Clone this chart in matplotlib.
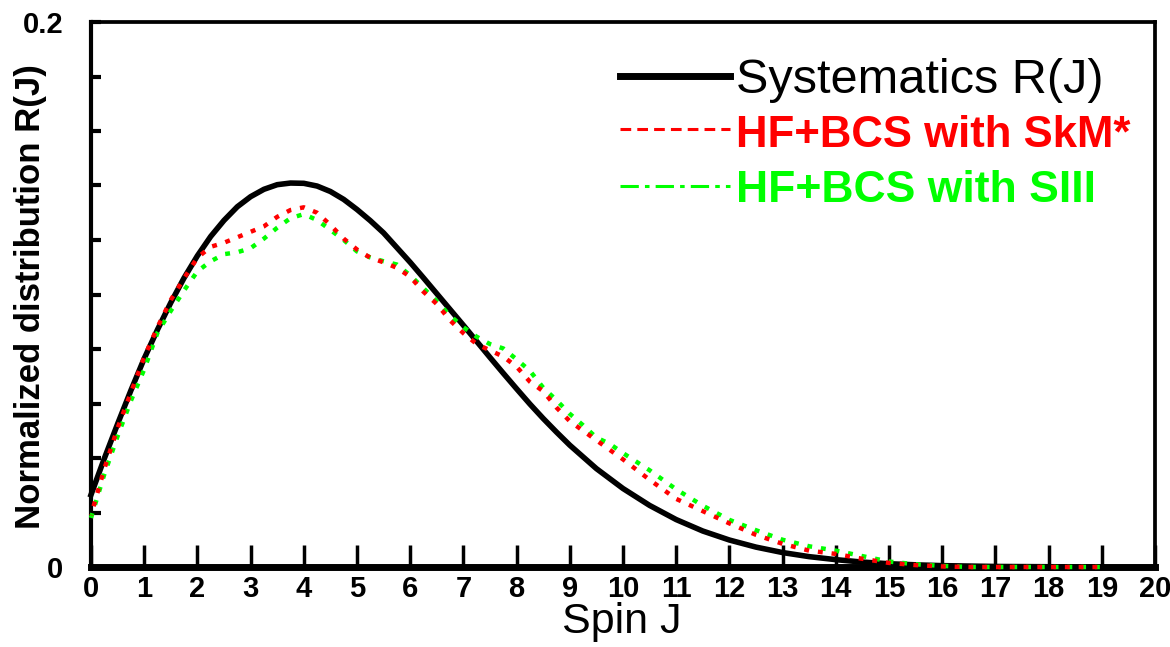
import numpy as np
import matplotlib
matplotlib.use('Agg')
import matplotlib.pyplot as plt

# spin J and the systematics curve R(J)
spin_sys = [0, 0.25, 0.5, 0.75, 1, 1.25, 1.5, 1.75, 2, 2.25, 2.5, 2.75, 3, 3.25,
            3.5, 3.75, 4, 4.25, 4.5, 4.75, 5, 5.25, 5.5, 5.75, 6, 6.25, 6.5,
            6.75, 7, 7.25, 7.5, 7.75, 8, 8.25, 8.5, 8.75, 9, 9.5, 10, 10.5, 11,
            11.5, 12, 12.5, 13, 13.5, 14, 14.5, 15, 15.5, 16, 17, 18, 19]
r_sys = [0.0265, 0.0398, 0.0525, 0.0648, 0.0765, 0.0871, 0.097, 0.1061, 0.1142,
         0.1213, 0.1272, 0.1322, 0.1359, 0.1386, 0.1403, 0.1409, 0.1408, 0.1398,
         0.1378, 0.1349, 0.1312, 0.1271, 0.1226, 0.1172, 0.1118, 0.1061, 0.1003,
         0.0945, 0.0887, 0.0828, 0.0769, 0.0711, 0.0654, 0.0598, 0.0545, 0.0495,
         0.0447, 0.0361, 0.0288, 0.0226, 0.0174, 0.0132, 0.0099, 0.0073, 0.0053,
         0.0038, 0.0027, 0.0018, 0.0012, 0.0008, 0.0005, 0.0002, 0.0001, 0.0]

# HF+BCS curves
spin_hf = [0, 0.25, 0.5, 0.75, 1, 1.25, 1.5, 1.75, 2, 2.25, 2.5, 2.75, 3, 3.25,
           3.5, 3.75, 4, 4.25, 4.5, 4.75, 5, 5.25, 5.5, 5.75, 6, 6.25, 6.5,
           6.75, 7, 7.25, 7.5, 7.75, 8, 8.25, 8.5, 8.75, 9, 9.25, 9.5, 9.75, 10,
           10.5, 11, 11.5, 12, 12.5, 13, 13.5, 14, 14.5, 15, 15.5, 16, 16.5, 17,
           17.5, 18, 18.5, 19]
r_skm = [0.019, 0.036, 0.051, 0.064, 0.077, 0.088, 0.098, 0.106, 0.1135, 0.1175,
         0.119, 0.121, 0.123, 0.125, 0.1285, 0.131, 0.132, 0.130, 0.1255, 0.1205,
         0.1165, 0.1135, 0.1118, 0.1098, 0.1065, 0.101, 0.0965, 0.0905, 0.0858,
         0.0818, 0.0795, 0.0772, 0.0735, 0.068, 0.0645, 0.0585, 0.0535, 0.050,
         0.0465, 0.043, 0.0395, 0.032, 0.025, 0.0205, 0.016, 0.0118, 0.0085,
         0.006, 0.0048, 0.003, 0.0015, 0.0007, 0.0002, 0.0, 0.0, 0.0, 0.0, 0.0, 0.0]
r_siii = [0.018, 0.034, 0.048, 0.061, 0.0725, 0.086, 0.094, 0.1015, 0.1085,
          0.1122, 0.1148, 0.1155, 0.117, 0.1205, 0.1245, 0.128, 0.1295, 0.1273,
          0.1237, 0.120, 0.1158, 0.1136, 0.1122, 0.111, 0.107, 0.1023, 0.0975,
          0.0922, 0.088, 0.0845, 0.0818, 0.0802, 0.0762, 0.072, 0.0658, 0.0612,
          0.0562, 0.052, 0.0475, 0.0452, 0.0418, 0.0355, 0.0285, 0.0225, 0.0173,
          0.0135, 0.010, 0.0076, 0.006, 0.004, 0.002, 0.001, 0.0004, 0.0, 0.0,
          0.0, 0.0, 0.0, 0.0]

x_ticks = list(range(0, 21))
y_ticks = [0, 0.02, 0.04, 0.06, 0.08, 0.1, 0.12, 0.14, 0.16, 0.18, 0.2]
y_ticklabels = ['0', '', '', '', '', '', '', '', '', '', '0.2']

font = ['Liberation Sans', 'DejaVu Sans']

fig = plt.figure(figsize=(11.7, 6.47), dpi=100)
ax = fig.add_axes([91 / 1170, 1 - 567 / 647, 1064 / 1170, 545 / 647])

ax.plot(spin_hf, r_siii, color='#00ff00', lw=3.2, linestyle=(0, (1.1, 2.0)),
        zorder=5, clip_on=False)
ax.plot(spin_hf, r_skm, color='#ff0000', lw=3.2, linestyle=(1.0, (1.1, 2.0)),
        zorder=5, clip_on=False)
ax.plot(spin_sys, r_sys, color='black', lw=4, zorder=4, clip_on=False)

ax.set_xlim(0, 20)
ax.set_ylim(0, 0.2)
ax.set_xticks(x_ticks)
ax.set_xticklabels([str(t) for t in x_ticks], family=font, fontsize=21,
                   fontweight='bold')
ax.set_yticks(y_ticks)
ax.set_yticklabels(y_ticklabels, family=font, fontsize=21, fontweight='bold')
ax.tick_params(axis='x', direction='in', length=16, width=2.5, pad=6)
ax.tick_params(axis='y', direction='in', length=7, width=3, pad=20)

ax.spines['left'].set_linewidth(3)
ax.spines['bottom'].set_linewidth(5)
ax.spines['top'].set_linewidth(2.7)
ax.spines['right'].set_linewidth(2.7)

# legend drawn by hand
ax.plot([0.497, 0.6006], [0.901, 0.901], color='black', lw=5,
        transform=ax.transAxes, clip_on=False)
ax.plot([0.497, 0.6006], [0.8037, 0.8037], color='#ff0000', lw=2.2,
        linestyle=(0, (3.5, 2)), transform=ax.transAxes)
ax.plot([0.497, 0.6006], [0.699, 0.699], color='#00ff00', lw=2.2,
        linestyle=(0, (6, 2, 1.5, 2)), transform=ax.transAxes)
ax.text(0.606, 0.8697, 'Systematics R(J)', transform=ax.transAxes,
        family=font, fontsize=35, va='baseline', ha='left', color='black')
ax.text(0.606, 0.7706, 'HF+BCS with SkM*', transform=ax.transAxes,
        family=font, fontsize=31.5, fontweight='bold', va='baseline', ha='left',
        color='#ff0000')
ax.text(0.606, 0.6697, 'HF+BCS with SIII', transform=ax.transAxes,
        family=font, fontsize=32, fontweight='bold', va='baseline', ha='left',
        color='#00ff00')

fig.text(30.7 / 1170, 1 - 297 / 647, 'Normalized distribution R(J)',
         rotation=90, ha='center', va='center', family=font, fontsize=25,
         fontweight='bold')
fig.text(622 / 1170, 1 - 633 / 647, 'Spin J', ha='center', va='baseline',
         family=font, fontsize=31)

fig.savefig('out.png', dpi=100)
